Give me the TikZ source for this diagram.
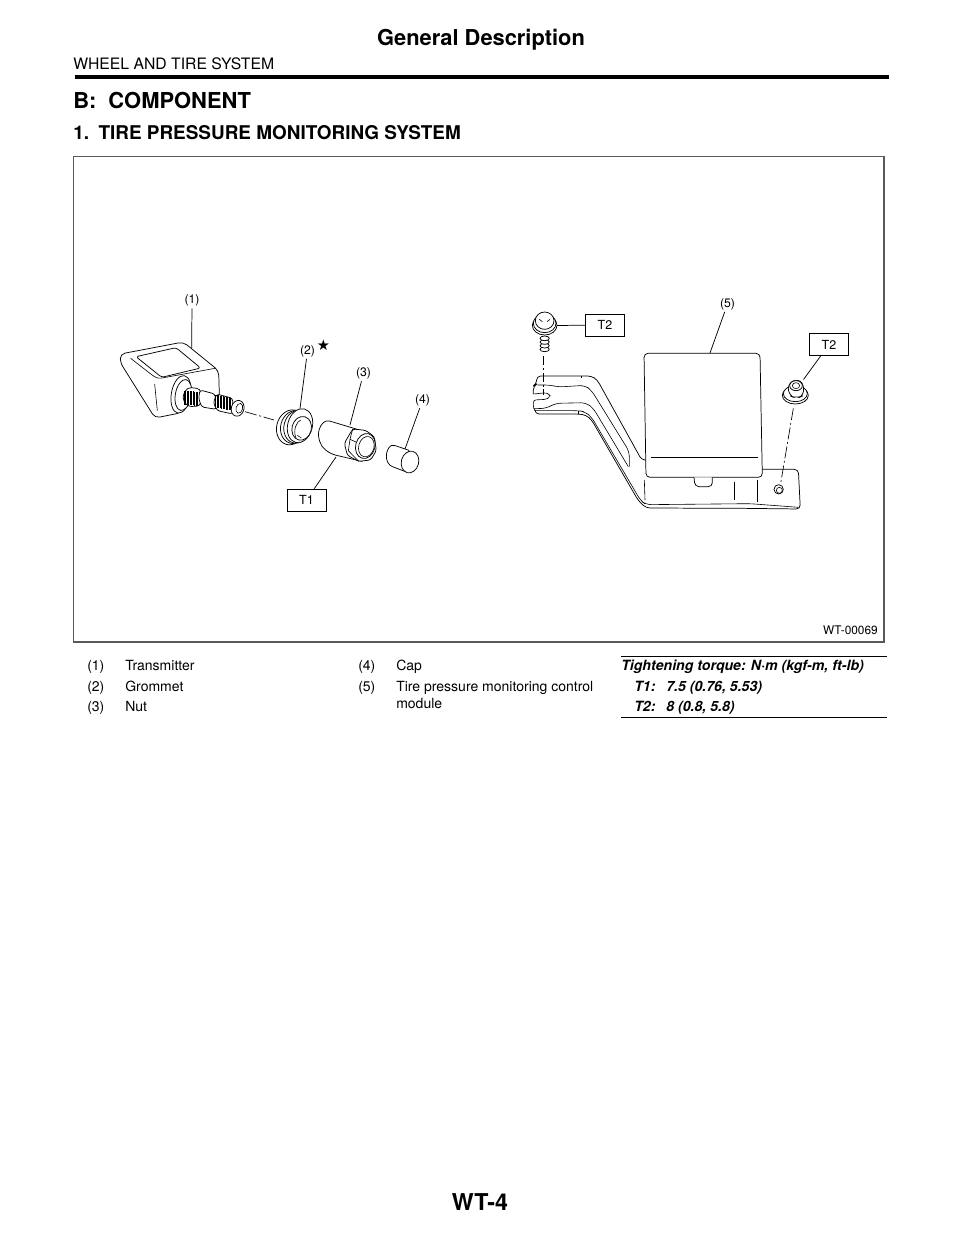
\documentclass[tikz,border=0pt]{standalone}
\usepackage{fontspec}
\setmainfont{TeX Gyre Heros}
\newfontfamily\symfont{DejaVu Sans}
\pgfdeclarelayer{nodelayer}
\pgfdeclarelayer{edgelayer}
\pgfsetlayers{edgelayer,nodelayer,main}
\tikzset{txt/.style={inner sep=0pt, anchor=base west, font=\fontsize{#1}{#1}\selectfont}}
\tikzset{btxt/.style={inner sep=0pt, anchor=base west, font=\fontsize{#1}{#1}\selectfont\bfseries}}
\tikzset{itxt/.style={inner sep=0pt, anchor=base west, font=\fontsize{#1}{#1}\selectfont\bfseries\itshape}}
\tikzset{callout/.style={inner sep=0pt, outer sep=1.5pt, font=\fontsize{9.2}{9.2}\selectfont}}
\tikzset{torque/.style={draw, inner sep=0pt, line width=.5pt, minimum width=29pt, minimum height=16.5pt, font=\fontsize{9.4}{9.4}\selectfont}}
\tikzset{lead/.style={line width=.55pt}}
\tikzset{part/.style={draw, fill=white, line width=.55pt, line join=round, rounded corners=1.2pt}}
\tikzset{thin part/.style={line width=.45pt}}
\tikzset{axisline/.style={line width=.5pt, dash pattern=on 9pt off 2pt on 1.5pt off 2pt}}
\begin{document}
\begin{tikzpicture}[x=.75pt, y=-.75pt]
	\useasboundingbox (0, 0) rectangle (960, 1242);
	\begin{pgfonlayer}{nodelayer}
		\node [btxt=16.4, anchor=base] (title) at (481, 45.5) {General Description};
		\node [txt=11.8] (chapter) at (73, 69.5) {WHEEL AND TIRE SYSTEM};
		\node [btxt=16.45] (section) at (73, 108) {B:\hspace{.55em}COMPONENT};
		\node [btxt=14.2] (sub) at (73, 139) {1.\hspace{.5em}TIRE PRESSURE MONITORING SYSTEM};
		\node [txt=8.9, anchor=base east] (code) at (878, 634.5) {WT-00069};
		\node [callout] (lab1) at (192, 300.5) {(1)};
		\node [callout] (lab2) at (307.5, 351) {(2)};
		\node [inner sep=0pt, font=\symfont\fontsize{11}{11}\selectfont] (star) at (323.5, 345) {★};
		\node [callout] (lab3) at (363.5, 373.5) {(3)};
		\node [callout] (lab4) at (422.5, 400.5) {(4)};
		\node [callout] (lab5) at (727.5, 304) {(5)};
		\node [torque] (t1) at (306.5, 500) {T1};
		\node [torque] (t2a) at (605, 325) {T2};
		\node [torque] (t2b) at (829, 344.5) {T2};
		\coordinate (end1) at (191.7, 348);
		\coordinate (end2) at (300, 408.5);
		\coordinate (end3) at (350, 425);
		\coordinate (end4) at (405, 449);
		\coordinate (end5) at (710, 353);
		\coordinate (endt1) at (336, 457);
		\coordinate (endt2a) at (556, 325.5);
		\coordinate (endt2b) at (803.5, 379.5);
		\node [txt=10.5] (n1) at (87, 670.5) {(1)};
		\node [txt=10.5] (i1) at (125, 670.5) {Transmitter};
		\node [txt=10.5] (n2) at (87, 691) {(2)};
		\node [txt=10.5] (i2) at (125, 691) {Grommet};
		\node [txt=10.5] (n3) at (87, 711) {(3)};
		\node [txt=10.5] (i3) at (125, 711) {Nut};
		\node [txt=10.5] (n4) at (358, 670.5) {(4)};
		\node [txt=10.5] (i4) at (396, 670.5) {Cap};
		\node [txt=10.5] (n5) at (358, 691) {(5)};
		\node [txt=10.5] (i5) at (396, 691) {Tire pressure monitoring control};
		\node [txt=10.5] (i5b) at (396, 708) {module};
		\node [itxt=10.6] (head) at (621, 670.5) {Tightening torque: N·m (kgf-m, ft-lb)};
		\node [itxt=10.6] (key1) at (634, 691) {T1:};
		\node [itxt=10.6] (val1) at (666, 691) {7.5 (0.76, 5.53)};
		\node [itxt=10.6] (key2) at (634, 711) {T2:};
		\node [itxt=10.6] (val2) at (666, 711) {8 (0.8, 5.8)};
		\node [btxt=17.4, anchor=base] (pageno) at (480, 1210) {WT-4};
		\coordinate (ruleL) at (75, 77);
		\coordinate (ruleR) at (889, 77);
		\coordinate (tabTL) at (621, 656.5);
		\coordinate (tabTR) at (887, 656.5);
		\coordinate (tabBL) at (621, 717.5);
		\coordinate (tabBR) at (887, 717.5);
		\coordinate (frameA) at (73.5, 156.5);
		\coordinate (frameB) at (884, 642);
	\end{pgfonlayer}
	\begin{pgfonlayer}{edgelayer}
		\draw [line width=2.6pt] (ruleL) to (ruleR);
		\draw [line width=.9pt, black!65] (frameA) rectangle (frameB);
		\draw [line width=1.4pt] (tabTL) to (tabTR);
		\draw [line width=1.4pt] (tabBL) to (tabBR);
		\draw [lead] (lab1) to (end1);
		\draw [lead] (lab2) to (end2);
		\draw [lead] (lab3) to (end3);
		\draw [lead] (lab4) to (end4);
		\draw [lead] (lab5) to (end5);
		\draw [lead] (t1) to (endt1);
		\draw [lead] (t2a) to (endt2a);
		\draw [lead] (t2b) to (endt2b);
	\end{pgfonlayer}
	% valve side
	\begin{scope}[shift={(100, 280)}, x=.25pt, y=-.25pt]
		\draw [part, rounded corners=3.5pt] (235, 400) -- (165, 414) -- (61, 248) -- (61, 222) -- (250, 186) -- (356, 272) -- (358, 345);
		\draw [part, rounded corners=2pt] (108, 230) -- (228, 203) -- (302, 264) -- (185, 292) -- cycle;
		\draw [thin part, rounded corners=2pt] (92, 235) -- (160, 288) -- (175, 296) -- (345, 265);
		\draw [thin part] (164, 312) -- (172, 392);
		\draw [part, rounded corners=0pt] (243, 343) circle [x radius=29, y radius=57, rotate=-10];
		\draw [part, rounded corners=0pt] (250, 345) circle [x radius=24, y radius=47, rotate=-10];
		\draw [part, rounded corners=3pt] (262, 322) -- (302, 326) -- (302, 378) -- (262, 380) -- (246, 352) -- cycle;
		\foreach \x in {252, 256.5, ..., 296} {
			\draw [thin part] (\x, {354+.1*(\x-275)-20}) -- (\x, {354+.1*(\x-275)+22});
		}
		\draw [part, rounded corners=2pt] (300, 330) -- (345, 342) -- (350, 388) -- (305, 381) -- (296, 355) -- cycle;
		\draw [part, rounded corners=2pt] (350, 342) -- (398, 355) -- (398, 402) -- (352, 392) -- (340, 368) -- cycle;
		\foreach \x in {346, 350.5, ..., 392} {
			\draw [thin part] (\x, {368+.2*(\x-370)-19}) -- (\x, {368+.2*(\x-370)+19});
		}
		\draw [part, rounded corners=0pt] (413, 385) circle [x radius=19, y radius=24, rotate=-15];
		\draw [thin part] (418, 385) circle [x radius=10, y radius=15, rotate=-15];
		\coordinate (axisA) at (435, 395);
		\coordinate (axisB) at (522, 420);
		\draw [axisline] (axisA) -- (axisB);
		% grommet
		\draw [part, rounded corners=0pt] (573, 442) circle [x radius=43, y radius=53, rotate=-15];
		\draw [part, rounded corners=0pt] (583, 441) circle [x radius=41, y radius=50, rotate=-15];
		\draw [part, rounded corners=0pt] (592, 440) circle [x radius=40, y radius=50, rotate=-15];
		\draw [part, rounded corners=0pt] (600, 437) circle [x radius=37, y radius=52, rotate=-15];
		\draw [part, rounded corners=0pt] (605, 445) circle [x radius=29, y radius=36, rotate=-15];
		\draw [thin part] (588, 474) .. controls (578, 450) and (590, 425) .. (602, 420);
		\draw [thin part] (592, 466) -- (604, 474);
		% nut
		\draw [part] (795, 455) -- (692, 424) .. controls (668, 418) and (650, 450) .. (658, 480) .. controls (665, 505) and (685, 518) .. (705, 525) -- (790, 545) -- cycle;
		\draw [part, rounded corners=2pt] (758, 447) -- (797, 451) -- (823, 470) -- (829, 512) -- (812, 540) -- (776, 544) -- (742, 526) -- (733, 490) -- cycle;
		\draw [thin part] (758, 447) -- (750, 478) -- (768, 486);
		\draw [thin part] (750, 478) -- (745, 512) -- (776, 544);
		\draw [part, rounded corners=0pt] (796, 498) circle [x radius=29, y radius=38, rotate=-15];
		\draw [thin part] (799, 500) circle [x radius=23, y radius=31, rotate=-15];
		% cap
		\draw [part] (930, 512) -- (880, 495) .. controls (862, 500) and (850, 535) .. (872, 558) -- (925, 578) -- cycle;
		\draw [part, rounded corners=0pt] (930, 546) circle [x radius=26, y radius=33, rotate=-15];
	\end{scope}
	% module side
	\begin{scope}[shift={(510, 280)}, x=.25pt, y=-.25pt]
		\draw [part, rounded corners=3pt] (75, 392) -- (75, 402) -- (205, 402) -- (228, 405) -- (245, 420) -- (385, 662) -- (408, 684) -- (700, 685) -- (871, 687) -- (865, 568) -- (755, 568) -- (395, 540) -- (262, 300) -- (245, 288) -- (80, 288) -- (80, 312) -- (70, 318) -- (70, 342);
		\draw [thin part, fill=white, rounded corners=2pt] (70, 342) -- (110, 338) -- (122, 348) -- (110, 358) -- (70, 360) -- (70, 385) -- (75, 392);
		\draw [thin part, rounded corners=4pt] (72, 386) -- (110, 385) -- (135, 370) -- (228, 368) -- (250, 385) -- (355, 560);
		\draw [thin part, rounded corners=4pt] (82, 315) -- (120, 315) -- (145, 321) -- (225, 316) -- (245, 332) -- (358, 515) -- (358, 560);
		\draw [thin part, rounded corners=4pt] (75, 392) -- (205, 392) -- (225, 395) -- (245, 412) -- (392, 662) -- (408, 674) -- (720, 671) -- (866, 682);
		\draw [thin part] (205, 392) -- (205, 402);
		\draw [thin part] (215, 288) -- (215, 295);
		% control module
		\draw [part, rounded corners=3pt] (402, 220) -- (750, 220) -- (757, 592) -- (408, 592) -- cycle;
		\draw [thin part] (422, 533) -- (745, 533);
		\draw [part, rounded corners=3pt] (552, 592) -- (555, 620) -- (607, 620) -- (607, 592);
		\draw [thin part] (403, 600) -- (405, 660);
		\draw [thin part] (672, 605) -- (672, 660);
		\draw [thin part] (743, 600) -- (743, 667);
		\draw [part, rounded corners=0pt] (806, 628) circle [x radius=14, y radius=14];
		\draw [thin part] (808, 631) circle [x radius=9, y radius=9];
		% bolt
		\foreach \y in {208, 197, 186, 175} {
			\draw [part, rounded corners=0pt] (104, \y) circle [x radius=14, y radius=7];
		}
		\draw [part, rounded corners=0pt] (104, 136) circle [x radius=37, y radius=29];
		\draw [part, rounded corners=0pt] (104, 130) circle [x radius=34, y radius=28];
		\draw [part, rounded corners=0pt] (104, 122) circle [x radius=28, y radius=26];
		\draw [thin part] (88, 118) -- (97, 125);
		\draw [thin part] (120, 118) -- (111, 125);
		\coordinate (boltA) at (100, 228);
		\coordinate (boltB) at (100, 345);
		\draw [axisline, dash pattern=on 7pt off 2pt on 1.5pt off 2pt] (boltA) -- (boltB);
		% nut on the bracket
		\draw [part, rounded corners=0pt] (856, 346) circle [x radius=39, y radius=26];
		\draw [part, rounded corners=0pt] (856, 341) circle [x radius=36, y radius=24];
		\draw [part, rounded corners=5pt] (834, 345) -- (836, 304) -- (876, 298) -- (884, 345) -- (860, 356) -- cycle;
		\draw [part, rounded corners=0pt] (858, 317) circle [x radius=19, y radius=15];
		\draw [thin part] (858, 317) circle [x radius=11, y radius=9];
		\coordinate (screwA) at (850, 385);
		\coordinate (screwB) at (812, 610);
		\draw [axisline] (screwA) -- (screwB);
	\end{scope}
\end{tikzpicture}
\end{document}
